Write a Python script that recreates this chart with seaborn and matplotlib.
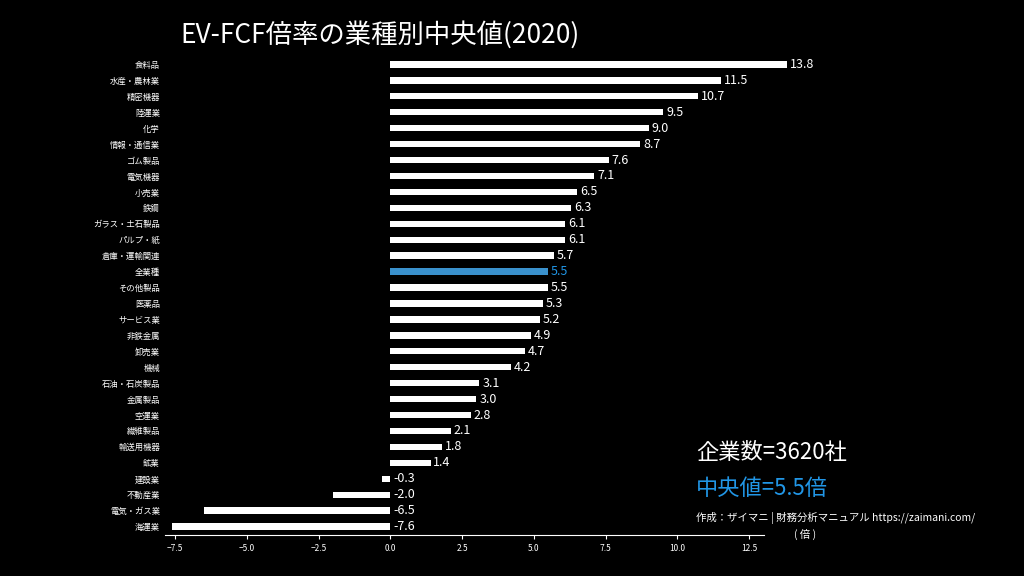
import matplotlib
matplotlib.use("Agg")
import matplotlib.pyplot as plt
import seaborn as sns
import pandas as pd

categories = ["食料品","水産・農林業","精密機器","陸運業","化学","情報・通信業","ゴム製品","電気機器","小売業","鉄鋼",
              "ガラス・土石製品","パルプ・紙","倉庫・運輸関連","全業種","その他製品","医薬品","サービス業","非鉄金属","卸売業","機械",
              "石油・石炭製品","金属製品","空運業","繊維製品","輸送用機器","鉱業","建設業","不動産業","電気・ガス業","海運業"]
values = [13.8,11.5,10.7,9.5,9.0,8.7,7.6,7.1,6.5,6.3,6.1,6.1,5.7,5.5,5.5,5.3,5.2,4.9,4.7,4.2,3.1,3.0,2.8,2.1,1.8,1.4,-0.3,-2.0,-6.5,-7.6]
highlight = "全業種"

plt.rcParams["font.family"] = ["Noto Sans CJK JP", "DejaVu Sans"]
df = pd.DataFrame({"cat": categories, "val": values})
colors = ["#2196e6" if c == highlight else "white" for c in categories]

fig = plt.figure(figsize=(10.24, 5.76), dpi=100, facecolor="black")
ax = fig.add_axes([0.161, 0.072, 0.61, 0.83], facecolor="black")
sns.barplot(data=df, x="val", y="cat", hue="cat", palette=colors, legend=False, ax=ax, width=0.4, orient="h")
for i, v in enumerate(values):
    c = "#2196e6" if categories[i] == highlight else "white"
    ax.text(v + 0.1 if v >= 0 else 0.1, i, f"{v:.1f}", va="center", ha="left", color=c, fontsize=9)
ax.set_xlim(-7.85, 13.9)
ax.set_ylim(len(categories) - 0.5, -0.5)
ax.set_xticks([-7.5, -5.0, -2.5, 0.0, 2.5, 5.0, 7.5, 10.0, 12.5])
ax.tick_params(axis="x", colors="white", labelsize=6, length=3)
ax.tick_params(axis="y", colors="white", labelsize=6, length=0)
ax.set_xlabel(""); ax.set_ylabel("")
for s in ["top", "right", "left"]:
    ax.spines[s].set_visible(False)
ax.spines["bottom"].set_color("white")
ax.spines["bottom"].set_bounds(-7.85, 13.0)

fig.text(0.176, 0.94, "EV-FCF倍率の業種別中央値(2020)", color="white", fontsize=19, va="center")
fig.text(0.68, 0.215, "企業数=3620社", color="white", fontsize=16, va="center")
fig.text(0.68, 0.152, "中央値=5.5倍", color="#2196e6", fontsize=16, va="center")
fig.text(0.68, 0.10, "作成：ザイマニ | 財務分析マニュアル https://zaimani.com/", color="white", fontsize=7.5, va="center")
fig.text(0.775, 0.072, "( 倍 )", color="white", fontsize=7.5, va="center")
fig.savefig("out.png", facecolor="black")
